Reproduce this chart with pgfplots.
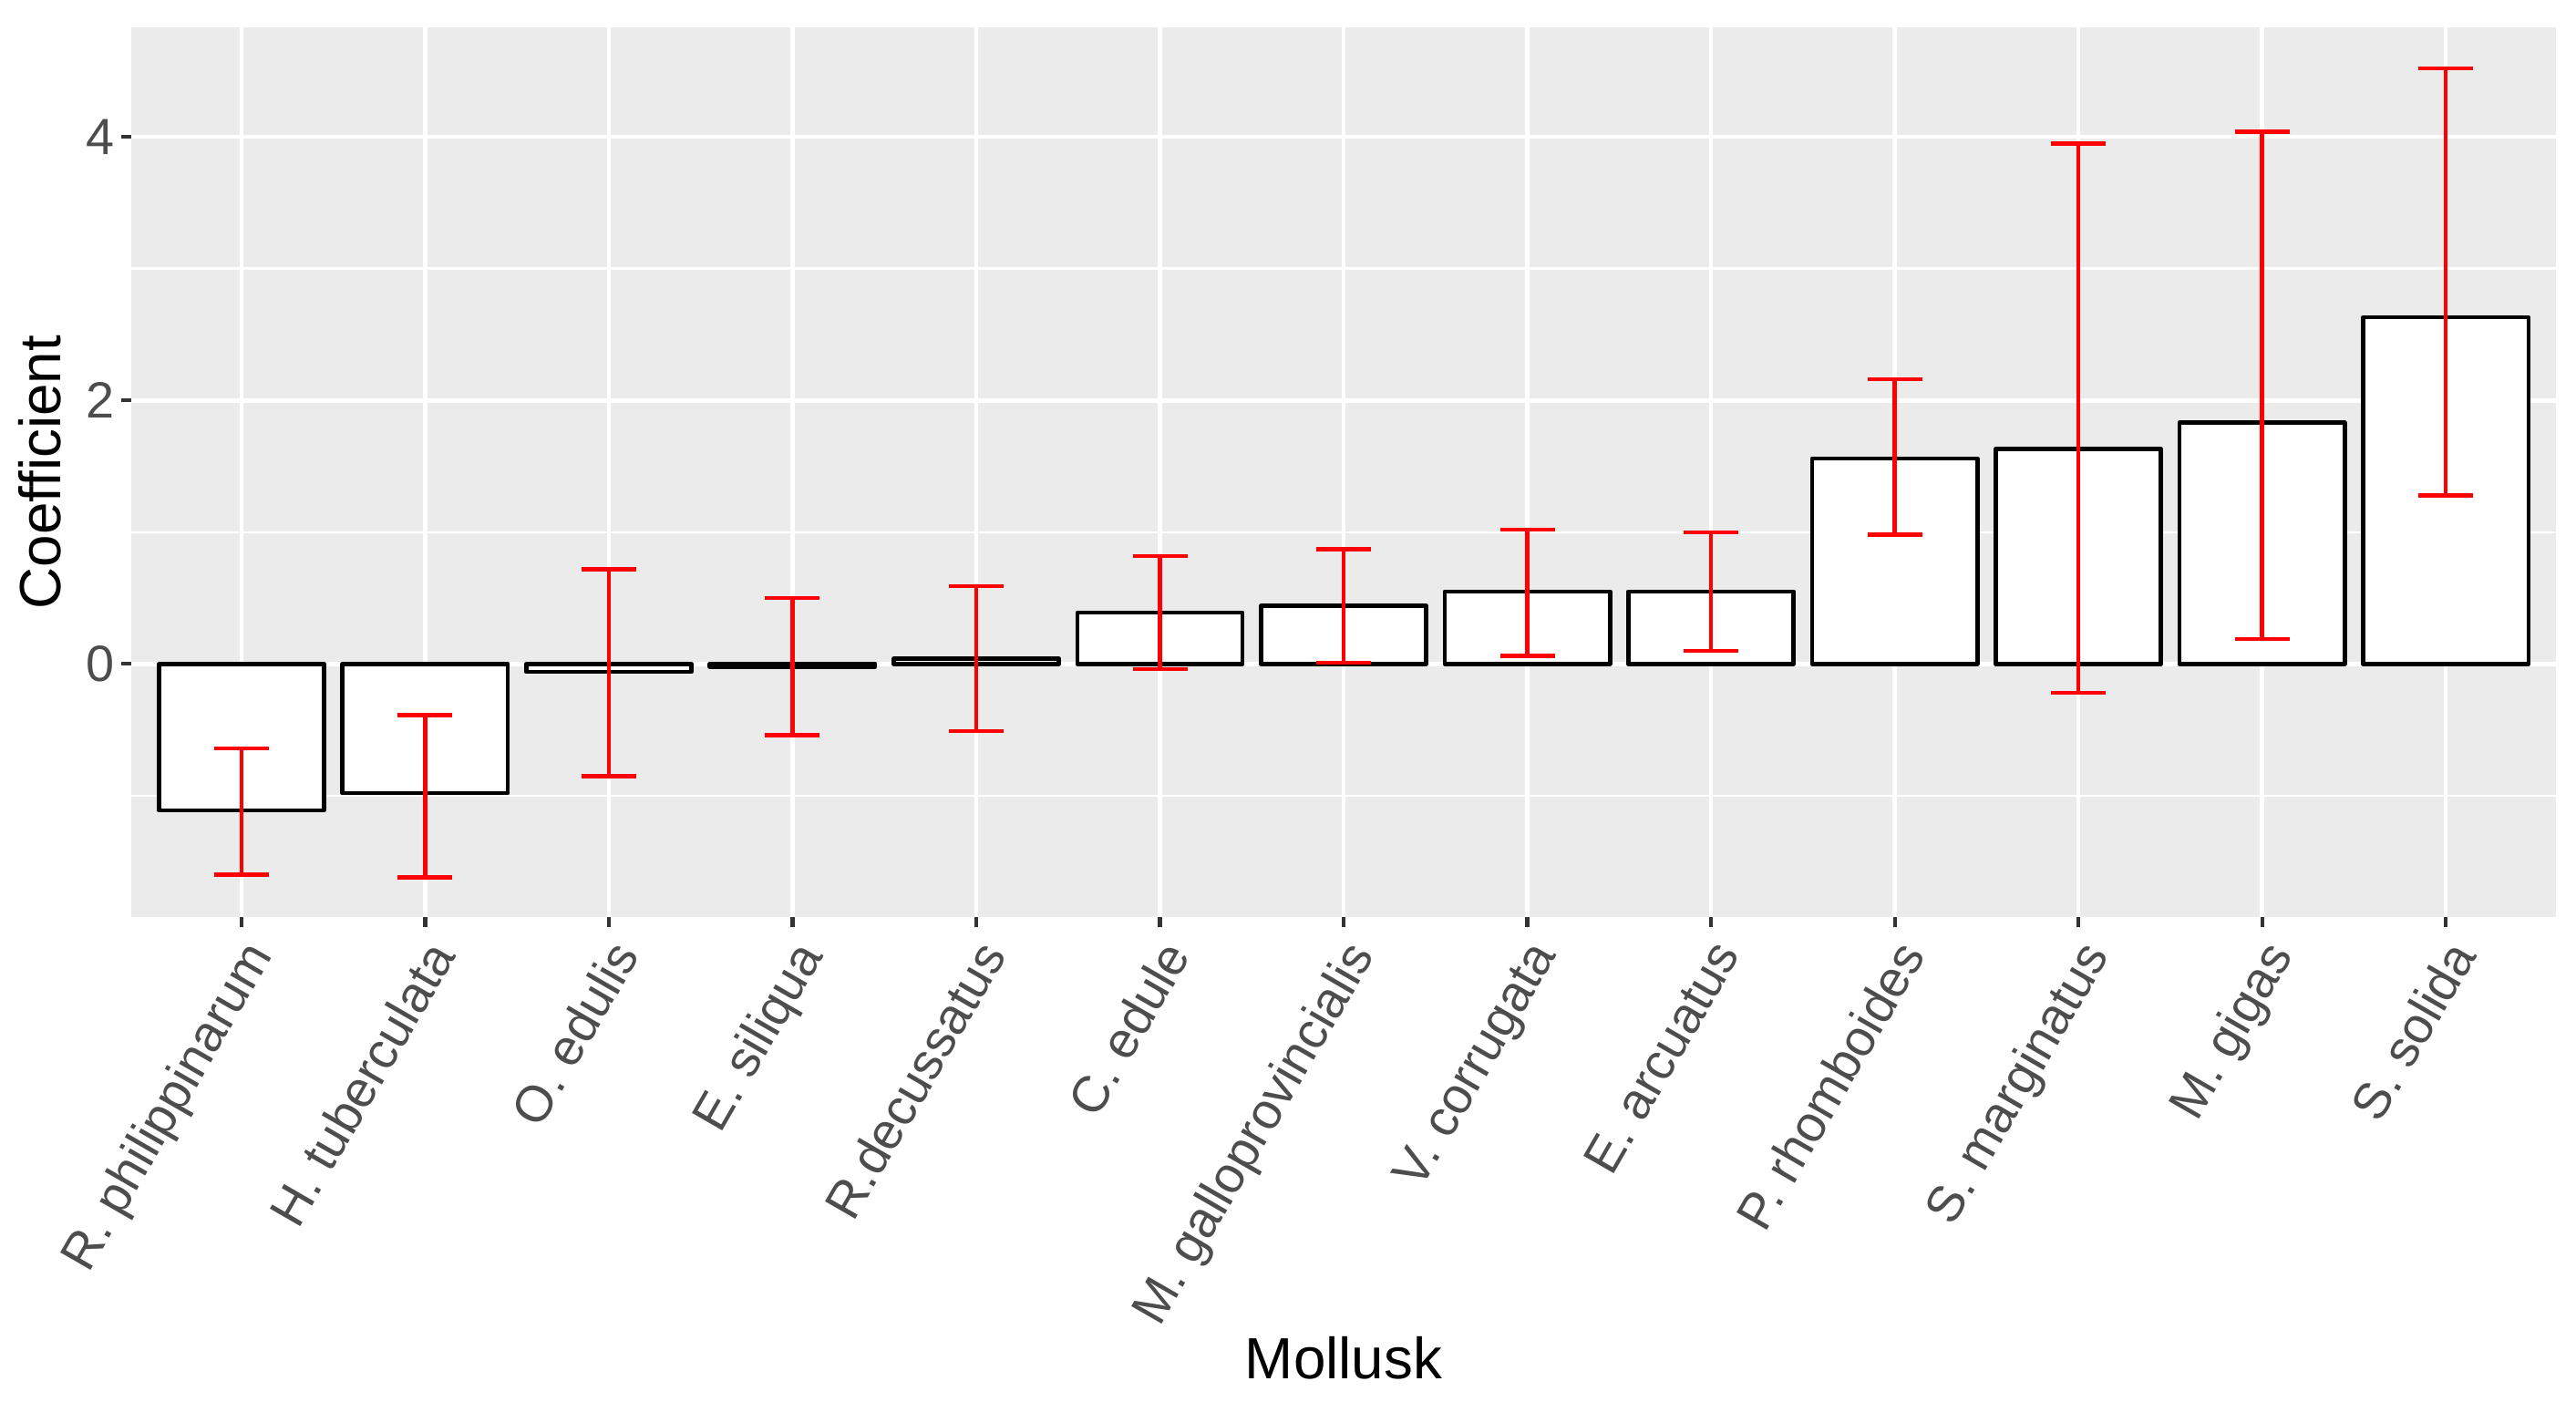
\documentclass[border=0pt]{standalone}
\usepackage{fontspec}
\setmainfont{Liberation Sans}
\usepackage{pgfplots}
\usepackage{pgfplotstable}
\pgfplotsset{compat=1.18}

\definecolor{panelbg}{HTML}{EBEBEB}
\definecolor{ticklab}{HTML}{4D4D4D}
\definecolor{tickcol}{HTML}{333333}

% coefficient, upper and lower error
\pgfplotstableread{
x   y      ep    em
0  -1.11   0.47  0.49
1  -0.98   0.59  0.64
2  -0.06   0.78  0.79
3  -0.02   0.52  0.52
4   0.04   0.55  0.55
5   0.39   0.43  0.43
6   0.44   0.43  0.43
7   0.55   0.47  0.49
8   0.55   0.45  0.45
9   1.56   0.60  0.58
10  1.63   2.32  1.85
11  1.83   2.21  1.64
12  2.63   1.89  1.35
}\coef

\begin{document}
\begin{tikzpicture}
\begin{axis}[
  name=main,
  scale only axis, width=638.4pt, height=234.24pt,
  xmin=-0.6, xmax=12.6, ymin=-1.92, ymax=4.83,
  axis background/.style={fill=panelbg},
  axis line style={draw=none},
  xtick={0,...,12},
  xticklabels={R. philippinarum, H. tuberculata, O. edulis, E. siliqua,
    R.decussatus, C. edule, M. galloprovincialis, V. corrugata, E. arcuatus,
    P. rhomboides, S. marginatus, M. gigas, S. solida},
  ytick={0,2,4}, minor ytick={-1,1,3},
  grid=both,
  major grid style={white, line width=1.13pt},
  minor grid style={white, line width=0.6pt},
  tick align=outside, major tick length=2.64pt, minor tick length=0pt,
  tick style={tickcol, line width=1pt},
  xtick pos=bottom, ytick pos=left,
  /pgf/number format/assume math mode=true,
  ticklabel style={font=\fontsize{13.4}{16}\selectfont, text=ticklab, inner sep=0pt},
  xticklabel style={xshift=-0.2pt, yshift=-2.4pt, rotate=60, anchor=north east},
  yticklabel style={xshift=-1.5pt, anchor=east},
  xlabel={Mollusk}, ylabel={Coefficient},
  label style={font=\fontsize{15.3}{18}\selectfont, text=black, inner sep=0pt},
  xlabel style={at={([yshift=-121.44pt]axis description cs:0.5,0)}, anchor=base},
  ylabel style={at={([xshift=-18.5pt]axis description cs:0,0.5)}, anchor=base},
]
\addplot[ybar, bar width=0.9, fill=white, draw=black, line width=1.1pt, line join=round]
  table[x=x, y=y]{\coef};
\addplot[draw=none, mark=none, forget plot,
  error bars/.cd, y dir=both, y explicit,
  error mark=|,
  error bar style={draw=red, line width=1.1pt},
  error mark options={draw=red, line width=1.1pt, mark size=7.2pt}]
  table[x=x, y=y, y error plus=ep, y error minus=em]{\coef};
\end{axis}
\pgfresetboundingbox
\path[use as bounding box] ([shift={(-34.56pt,-127.44pt)}]main.south west)
  rectangle ([shift={(5.28pt,7.2pt)}]main.north east);
\end{tikzpicture}
\end{document}
